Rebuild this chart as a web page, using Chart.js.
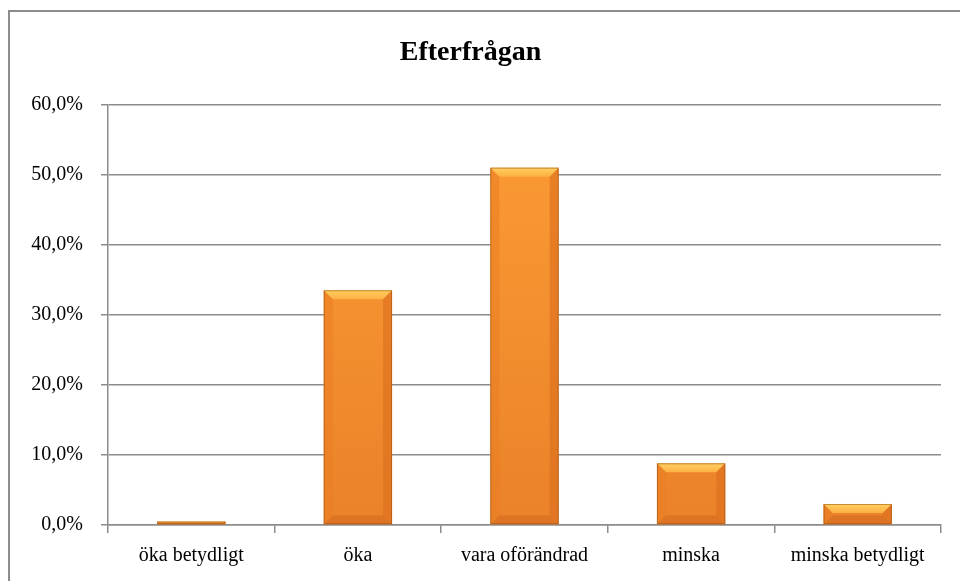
<!DOCTYPE html>
<html>
<head>
<meta charset="utf-8">
<script src="https://cdn.jsdelivr.net/npm/chart.js@4"></script>
<style>
  body { margin: 0; background: #fff; }
  #wrap { position: relative; width: 960px; height: 581px; overflow: hidden; }
  #frame { position: absolute; left: 8px; top: 10px; width: 1000px; height: 1000px; border: 2px solid #8c8c8c; }
  canvas { position: absolute; left: 0; top: 0; }
</style>
</head>
<body>
<div id="wrap">
  <div id="frame"></div>
  <canvas id="chart" width="960" height="581"></canvas>
</div>
<script>
const categories = ['öka betydligt', 'öka', 'vara oförändrad', 'minska', 'minska betydligt'];
const values = [0.5, 33.5, 51.0, 8.8, 3.0];
const yTicks = [0, 10, 20, 30, 40, 50, 60];

const fontFamily = "'Liberation Serif', 'DejaVu Serif', serif";

// bevel look of the bars, drawn on top of each bar the library placed
const bevelPlugin = {
    id: 'bevel',
    afterDatasetsDraw(chart) {
        const ctx = chart.ctx;
        chart.getDatasetMeta(0).data.forEach(bar => {
            const l = bar.x - bar.width / 2, r = bar.x + bar.width / 2;
            const t = bar.y, b = bar.base;
            const h = b - t;
            if (h < 1) return;
            const s = Math.min(9, h / 2);
            ctx.save();
            // top
            let g = ctx.createLinearGradient(0, t, 0, t + s);
            g.addColorStop(0, '#ffd060');
            g.addColorStop(1, '#fdb043');
            ctx.fillStyle = g;
            ctx.beginPath();
            ctx.moveTo(l, t); ctx.lineTo(r, t); ctx.lineTo(r - s, t + s); ctx.lineTo(l + s, t + s);
            ctx.closePath(); ctx.fill();
            // bottom
            ctx.fillStyle = '#dc7424';
            ctx.beginPath();
            ctx.moveTo(l, b); ctx.lineTo(r, b); ctx.lineTo(r - s, b - s); ctx.lineTo(l + s, b - s);
            ctx.closePath(); ctx.fill();
            // left
            ctx.fillStyle = 'rgba(235,125,35,0.55)';
            ctx.beginPath();
            ctx.moveTo(l, t); ctx.lineTo(l + s, t + s); ctx.lineTo(l + s, b - s); ctx.lineTo(l, b);
            ctx.closePath(); ctx.fill();
            // right
            ctx.fillStyle = 'rgba(220,110,30,0.6)';
            ctx.beginPath();
            ctx.moveTo(r, t); ctx.lineTo(r - s, t + s); ctx.lineTo(r - s, b - s); ctx.lineTo(r, b);
            ctx.closePath(); ctx.fill();
            ctx.strokeStyle = 'rgba(150,80,20,0.55)';
            ctx.lineWidth = 1;
            ctx.strokeRect(l + 0.5, t + 0.5, r - l - 1, h - 1);
            ctx.restore();
        });
    }
};

const ctx = document.getElementById('chart').getContext('2d');
new Chart(ctx, {
    type: 'bar',
    data: {
        labels: categories,
        datasets: [{
            data: values,
            backgroundColor: function(context) {
                const chart = context.chart;
                const area = chart.chartArea;
                if (!area) return '#f7952f';
                const g = chart.ctx.createLinearGradient(0, area.top, 0, area.bottom);
                g.addColorStop(0, '#fc9d35');
                g.addColorStop(1, '#ea8229');
                return g;
            },
            borderWidth: 0,
            categoryPercentage: 1,
            barPercentage: 0.41
        }]
    },
    options: {
        responsive: false,
        animation: false,
        layout: { padding: { left: 0, right: 19, top: 0, bottom: 0 } },
        plugins: {
            legend: { display: false },
            tooltip: { enabled: false },
            title: {
                display: true,
                text: 'Efterfrågan',
                color: '#000',
                font: { family: fontFamily, size: 28, weight: 'bold', lineHeight: 1.2 },
                padding: { top: 36, bottom: 35 }
            }
        },
        scales: {
            x: {
                grid: {
                    display: true,
                    drawOnChartArea: false,
                    drawTicks: true,
                    tickLength: 8,
                    color: '#8c8c8c',
                    lineWidth: 1.5,
                    offset: true
                },
                border: { display: true, color: '#8c8c8c', width: 1.5 },
                ticks: {
                    color: '#000',
                    padding: 11,
                    maxRotation: 0,
                    font: { family: fontFamily, size: 20 }
                },
                afterFit(axis) { axis.height = 56; }
            },
            y: {
                min: 0,
                max: 60,
                afterBuildTicks(axis) { axis.ticks = yTicks.map(v => ({ value: v })); },
                grid: {
                    color: '#8c8c8c',
                    lineWidth: 1.5,
                    tickLength: 7
                },
                border: { display: true, color: '#8c8c8c', width: 1.5 },
                ticks: {
                    color: '#000',
                    padding: 18,
                    font: { family: fontFamily, size: 20 },
                    callback: v => v.toFixed(1).replace('.', ',') + '%'
                },
                afterFit(axis) { axis.width = 108; }
            }
        }
    },
    plugins: [bevelPlugin]
});
</script>
</body>
</html>
